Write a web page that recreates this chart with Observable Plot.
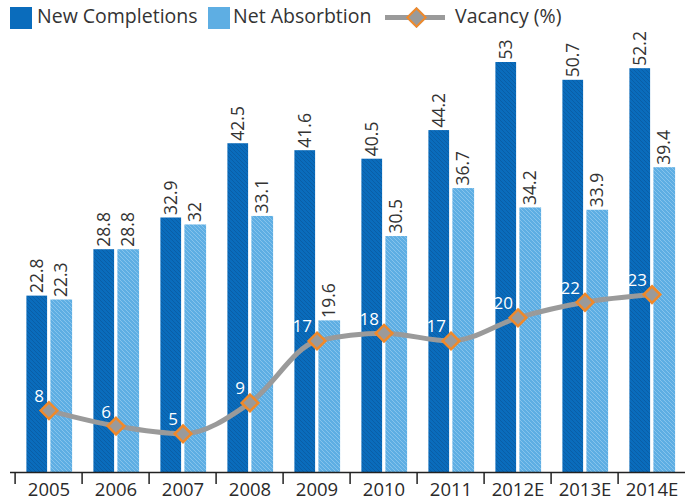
<!DOCTYPE html>
<html>
<head>
<meta charset="utf-8">
<script src="https://cdn.jsdelivr.net/npm/d3@7"></script>
<script src="https://cdn.jsdelivr.net/npm/@observablehq/plot@0.6"></script>
<style>
  body { margin: 0; background: #fff; font-family: "Open Sans", sans-serif; }
  #legend { position: relative; z-index: 0; width: 685px; height: 36px; color: #333; font-size: 19.5px; }
  #legend .sw { position: absolute; top: 7px; width: 22px; height: 22px; }
  #legend .lab { position: absolute; top: 2px; white-space: nowrap; }
  #legend .ln { position: absolute; left: 385px; top: 15px; width: 60px; height: 5px; background: #9a9a9a; }
  #legend .dm { position: absolute; left: 409px; top: 10px; width: 11px; height: 11px; background: #9a9a9a; border: 2.5px solid #f0892a; transform: rotate(45deg); }
  #chart { position: relative; z-index: 1; }
  svg { display: block; overflow: visible !important; }
</style>
</head>
<body>
<div id="legend">
  <div class="sw" style="left:10px;background:#0a6cbc"></div>
  <div class="lab" style="left:37px">New Completions</div>
  <div class="sw" style="left:208px;background:#5eaee3"></div>
  <div class="lab" style="left:233px">Net Absorbtion</div>
  <div class="ln"></div>
  <div class="dm"></div>
  <div class="lab" style="left:455px">Vacancy (%)</div>
</div>
<div id="chart"></div>
<script>
const years = ["2005", "2006", "2007", "2008", "2009", "2010", "2011", "2012E", "2013E", "2014E"];
const completions = [22.8, 28.8, 32.9, 42.5, 41.6, 40.5, 44.2, 53, 50.7, 52.2];
const absorption = [22.3, 28.8, 32, 33.1, 19.6, 30.5, 36.7, 34.2, 33.9, 39.4];
const vacancy = [8, 6, 5, 9, 17, 18, 17, 20, 22, 23];

const data = years.map((year, i) => ({
  year,
  completions: completions[i],
  absorption: absorption[i],
  vacancy: vacancy[i]
}));

const half = 33.9;

const chart = Plot.plot({
  width: 685,
  height: 464,
  marginTop: 26,
  marginBottom: 28,
  marginLeft: 10,
  marginRight: 0,
  style: { fontFamily: "Open Sans, sans-serif", color: "#333", background: "transparent", overflow: "visible" },
  x: { type: "band", domain: years, range: [10.5, 688.5], padding: 0, label: null },
  y: { domain: [0, 53], axis: null },
  marks: [
    Plot.barY(data, { x: "year", y: "completions", fill: "url(#hatchDark)", insetLeft: 11.4, insetRight: 34.9 }),
    Plot.barY(data, { x: "year", y: "absorption", fill: "url(#hatchLight)", insetLeft: 35.4, insetRight: 9.9 }),
    Plot.text(data, { x: "year", y: "completions", text: d => String(d.completions), rotate: -90, textAnchor: "start", dx: -11.75, dy: -3, fontSize: 17.5, fill: "#333" }),
    Plot.text(data, { x: "year", y: "absorption", text: d => String(d.absorption), rotate: -90, textAnchor: "start", dx: 12.75, dy: -3, fontSize: 17.5, fill: "#333" }),
    Plot.ruleY([0], { stroke: "#222", strokeWidth: 1.5 }),
    Plot.axisX({ ticks: years, tickSize: 12, tickFormat: () => "", dx: -half, stroke: "#222", strokeWidth: 1.5, label: null }),
    Plot.axisX({ ticks: years, tickSize: 0, tickPadding: 10, fontSize: 18.5, fill: "#2a2a2a", label: null }),
    Plot.line(data, { x: "year", y: "vacancy", stroke: "#9a9a9a", strokeWidth: 5, curve: "monotone-x" }),
    Plot.text(data, { x: "year", y: "vacancy", text: d => String(d.vacancy), textAnchor: "end", dx: -5, dy: -14, fill: "white", fontSize: 17 }),
    Plot.dot(data, { x: "year", y: "vacancy", symbol: "diamond2", r: 7.5, fill: "#9a9a9a", stroke: "#f0892a", strokeWidth: 2.5 })
  ]
});

const defs = d3.select(chart).insert("defs", ":first-child");
function hatch(id, bg, fg) {
  const p = defs.append("pattern").attr("id", id).attr("patternUnits", "userSpaceOnUse").attr("width", 4).attr("height", 4);
  p.append("rect").attr("width", 4).attr("height", 4).attr("fill", bg);
  p.append("path").attr("d", "M-1,-1L1,1M0,0L4,4M3,3L5,5").attr("stroke", fg).attr("stroke-width", 1);
}
hatch("hatchDark", "#0a6cbc", "#0a5ea6");
hatch("hatchLight", "#5eaee3", "#86c3ec");

document.getElementById("chart").appendChild(chart);
</script>
</body>
</html>
